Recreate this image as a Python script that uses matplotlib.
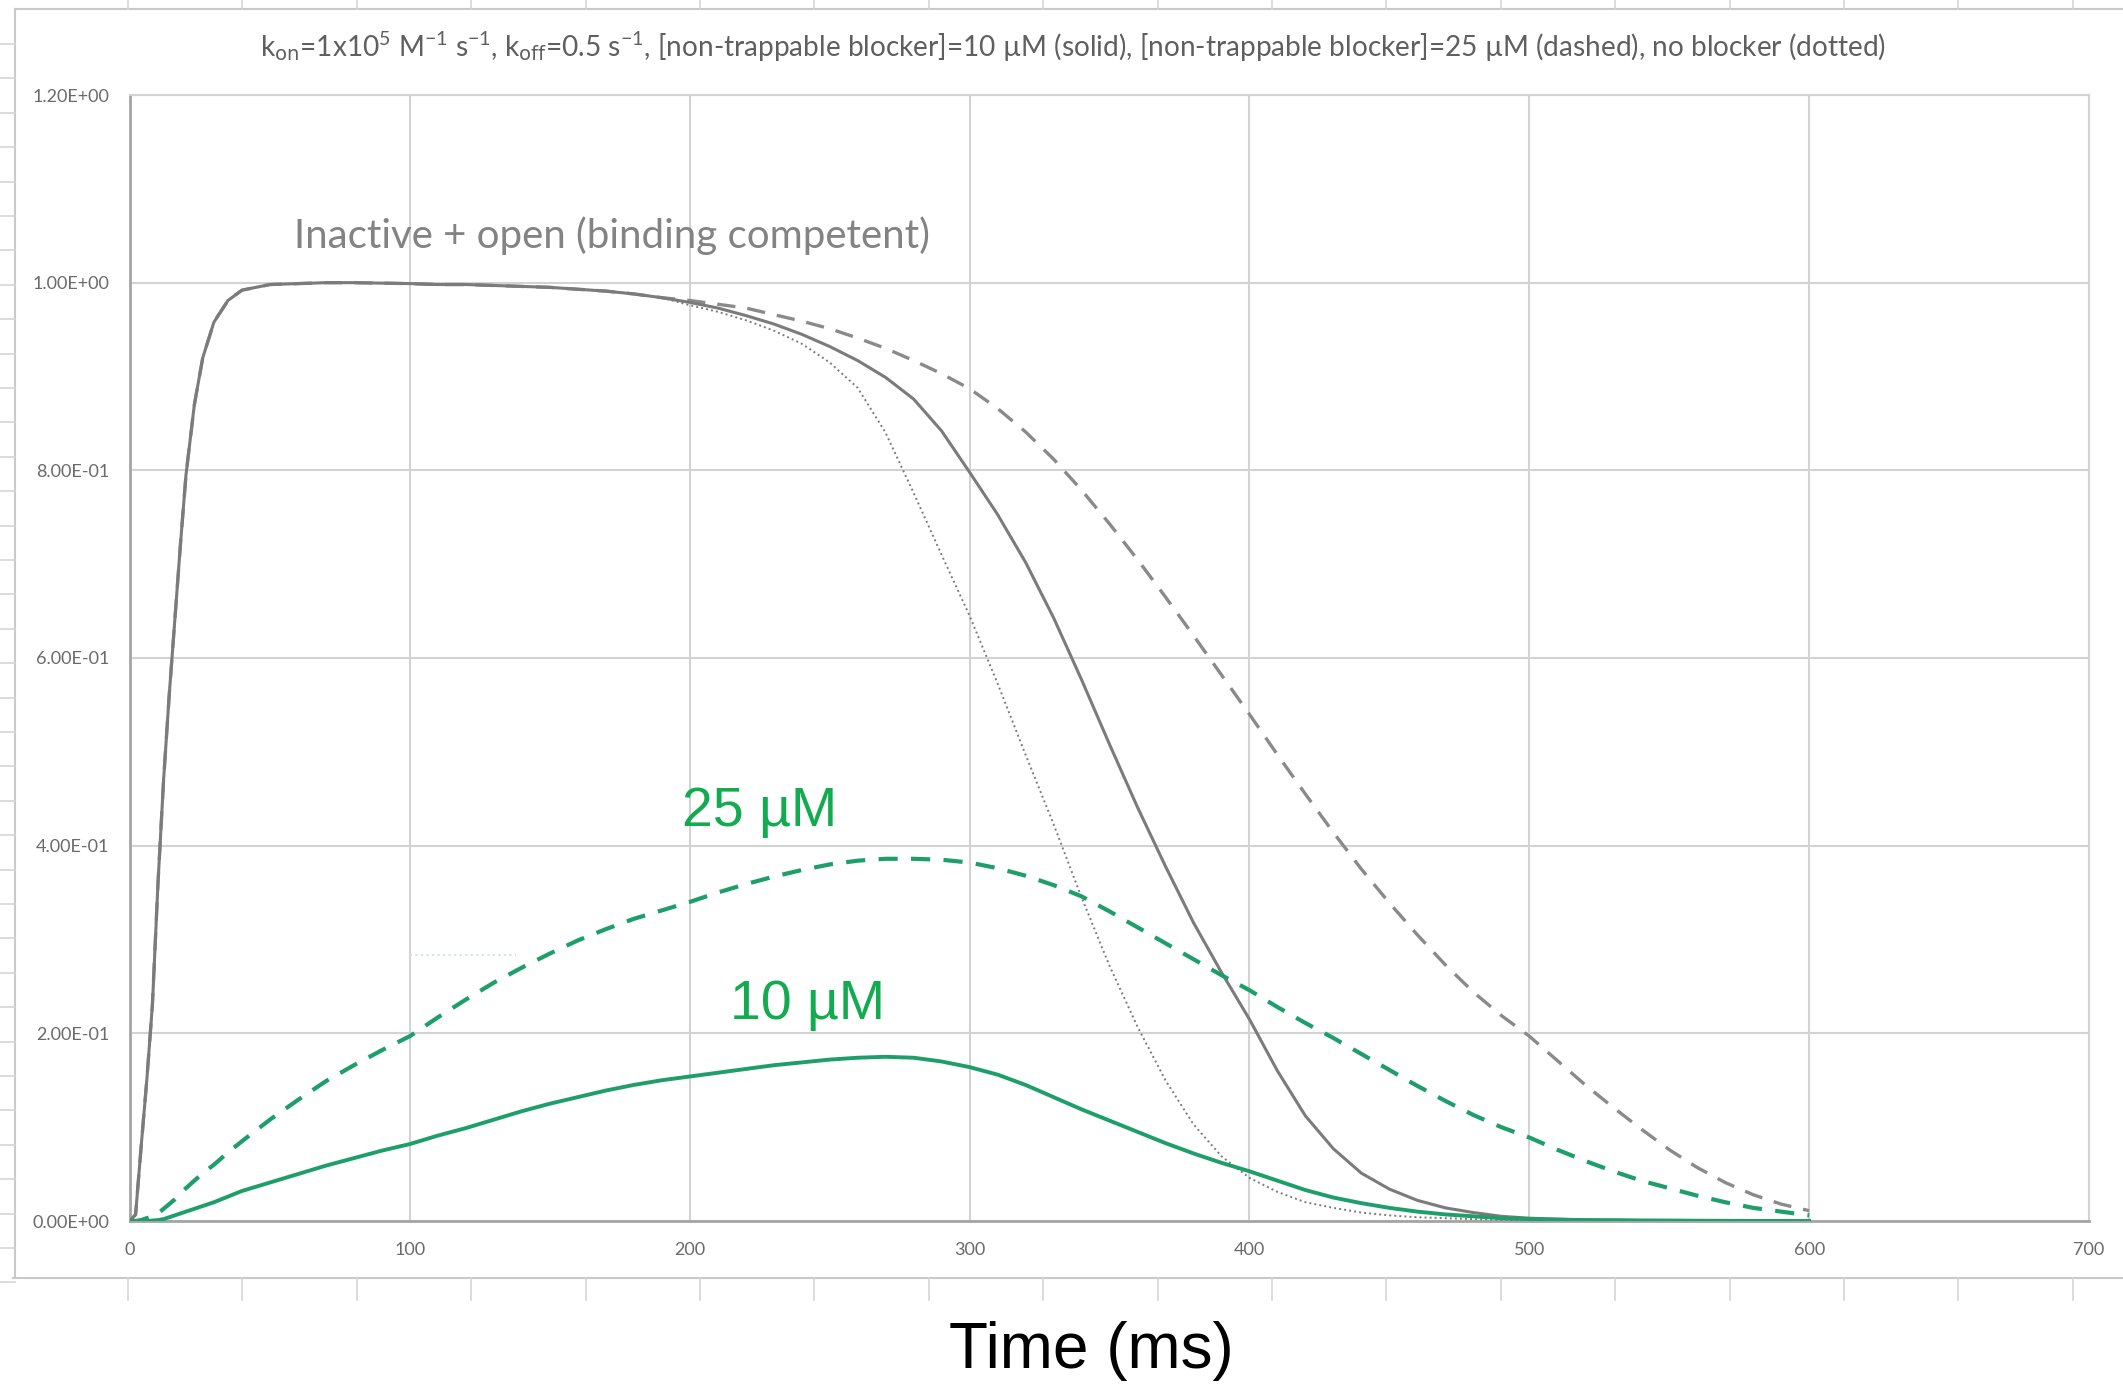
import matplotlib
matplotlib.use('Agg')
import matplotlib.pyplot as plt
from matplotlib.lines import Line2D
from matplotlib.ticker import FuncFormatter

# time points (ms) shared by all five traces
time_ms = [0, 2, 4, 6, 8, 10, 12, 14, 16, 18, 20, 23, 26, 30, 35, 40,
           50, 60, 70, 80, 90, 100, 110, 120, 130, 140, 150, 160, 170, 180, 190,
           200, 210, 220, 230, 240, 250, 260, 270, 280, 290,
           300, 310, 320, 330, 340, 350, 360, 370, 380, 390,
           400, 410, 420, 430, 440, 450, 460, 470, 480, 490,
           500, 510, 520, 530, 540, 550, 560, 570, 580, 590, 600]

# inactive + open (binding competent) fraction
rise = [0, 0.007, 0.08, 0.15, 0.23, 0.36, 0.47, 0.56, 0.64, 0.72, 0.795, 0.87, 0.92, 0.958, 0.981, 0.992,
        0.998, 0.999, 1.0, 1.0, 0.9995, 0.999, 0.998, 0.998, 0.997, 0.996, 0.995, 0.993, 0.991, 0.988, 0.984]
open_10uM = rise + [
    0.979, 0.973, 0.965, 0.956, 0.945, 0.932, 0.917, 0.899, 0.876, 0.842,
    0.798, 0.753, 0.702, 0.643, 0.577, 0.508, 0.441, 0.378, 0.318, 0.265,
    0.215, 0.160, 0.112, 0.077, 0.051, 0.034, 0.022, 0.014, 0.009, 0.005,
    0.003, 0.002, 0.001, 0.001, 0.0005, 0.0005, 0.0003, 0.0002, 0.0001, 0.0001, 0]
open_25uM = rise + [
    0.981, 0.977, 0.973, 0.966, 0.959, 0.951, 0.941, 0.930, 0.917, 0.903,
    0.887, 0.866, 0.841, 0.812, 0.779, 0.743, 0.705, 0.665, 0.624, 0.582,
    0.540, 0.497, 0.455, 0.414, 0.375, 0.339, 0.305, 0.273, 0.244, 0.219,
    0.197, 0.171, 0.145, 0.121, 0.098, 0.076, 0.057, 0.041, 0.028, 0.018, 0.011]
open_none = rise + [
    0.976, 0.969, 0.960, 0.949, 0.935, 0.915, 0.888, 0.840, 0.776, 0.710,
    0.645, 0.573, 0.497, 0.423, 0.345, 0.272, 0.207, 0.150, 0.103, 0.069,
    0.046, 0.031, 0.020, 0.014, 0.009, 0.006, 0.004, 0.003, 0.002, 0.001,
    0.001, 0, 0, 0, 0, 0, 0, 0, 0, 0, 0]

# blocked fraction
blocked_10uM = [0, 0, 0, 0, 0.0005, 0.001, 0.002, 0.004, 0.006, 0.008, 0.010, 0.013, 0.016, 0.020, 0.026, 0.032,
                0.041, 0.050, 0.059, 0.067, 0.075, 0.082, 0.091, 0.099, 0.108, 0.117, 0.125, 0.132, 0.139, 0.145, 0.150,
                0.154, 0.158, 0.162, 0.166, 0.169, 0.172, 0.174, 0.175, 0.174, 0.170,
                0.164, 0.156, 0.145, 0.132, 0.119, 0.107, 0.095, 0.083, 0.072, 0.062,
                0.053, 0.043, 0.033, 0.025, 0.019, 0.014, 0.010, 0.007, 0.005, 0.003,
                0.002, 0.0015, 0.001, 0.0008, 0.0006, 0.0005, 0.0003, 0.0002, 0.0001, 0.0001, 0]
blocked_25uM = [0, 0, 0.001, 0.003, 0.005, 0.008, 0.013, 0.018, 0.023, 0.029, 0.035, 0.043, 0.051, 0.060, 0.073, 0.085,
                0.108, 0.129, 0.149, 0.166, 0.182, 0.197, 0.217, 0.236, 0.254, 0.270, 0.285, 0.299, 0.311, 0.322, 0.331,
                0.340, 0.350, 0.359, 0.367, 0.374, 0.380, 0.384, 0.386, 0.386, 0.385,
                0.382, 0.376, 0.368, 0.358, 0.346, 0.330, 0.313, 0.296, 0.279, 0.262,
                0.246, 0.228, 0.211, 0.195, 0.178, 0.161, 0.144, 0.128, 0.113, 0.100,
                0.089, 0.076, 0.064, 0.053, 0.043, 0.035, 0.027, 0.020, 0.014, 0.010, 0.006]

# faint leftover dotted stub in the original
stub_t = [100, 138]
stub_v = [0.284, 0.284]

yticks = [0, 0.2, 0.4, 0.6, 0.8, 1.0, 1.2]
xticks = [0, 100, 200, 300, 400, 500, 600, 700]

title = (r"k$_{\mathrm{on}}$=1x10$^{5}$ M$^{-1}$ s$^{-1}$, k$_{\mathrm{off}}$=0.5 s$^{-1}$, "
         "[non-trappable blocker]=10 µM (solid), [non-trappable blocker]=25 µM (dashed), no blocker (dotted)")

GRAY = '#7b7b7b'
GREEN = '#1e9e6a'
LABEL_GREEN = '#12ab50'
W, H = 2123, 1387

plt.rcParams['font.family'] = ['Lato', 'DejaVu Sans']
plt.rcParams['mathtext.default'] = 'regular'

fig = plt.figure(figsize=(W / 100, H / 100), dpi=100)
ax = fig.add_axes([130 / W, 1 - 1221 / H, (2089 - 130) / W, (1221 - 95) / H])

ax.plot(time_ms, open_none, color=GRAY, lw=1.4, ls=(0, (1, 1.6)), zorder=3)
ax.plot(time_ms, open_25uM, color='#8a8a8a', lw=2.4, ls=(0, (5.5, 3.6)), zorder=3)
ax.plot(time_ms, open_10uM, color=GRAY, lw=2.2, zorder=4)
ax.plot(time_ms, blocked_10uM, color=GREEN, lw=2.8, zorder=5)
ax.plot(time_ms, blocked_25uM, color=GREEN, lw=3.0, ls=(0, (4.6, 3.2)), zorder=5)
ax.plot(stub_t, stub_v, color='#cfe8df', lw=1.5, ls=':', zorder=2)

ax.set_xlim(0, 700)
ax.set_ylim(0, 1.2)
ax.set_xticks(xticks)
ax.set_yticks(yticks)
ax.yaxis.set_major_formatter(FuncFormatter(lambda v, p: '%.2E' % v))
ax.tick_params(length=0, labelsize=13, labelcolor='#6a6a6a', pad=15)
ax.grid(color='#d3d3d3', lw=1.5)
ax.set_axisbelow(True)
for side in ['top', 'right']:
    ax.spines[side].set_color('#d3d3d3')
    ax.spines[side].set_linewidth(1.5)
for side in ['left', 'bottom']:
    ax.spines[side].set_color('#a5a5a5')
    ax.spines[side].set_linewidth(2)

ax.text(58.6, 1.05, 'Inactive + open (binding competent)', fontsize=29, color='#838383',
        ha='left', va='center')
ax.text(225, 0.436, '25 µM', fontsize=40, color=LABEL_GREEN, ha='center', va='center',
        family='Liberation Sans')
ax.text(242, 0.2305, '10 µM', fontsize=40, color=LABEL_GREEN, ha='center', va='center',
        family='Liberation Sans')

fig.text(1073 / W, 1 - 47 / H, title, fontsize=20.2, color='#5f5f5f', ha='center', va='center')
fig.text(1091 / W, 1 - 1351 / H, 'Time (ms)', fontsize=46, color='black', ha='center', va='center',
         family='Liberation Sans')


# spreadsheet frame around the chart
def px_line(x0, y0, x1, y1, color='#c9c9c9', lw=1.5):
    fig.add_artist(Line2D([x0 / W, x1 / W], [1 - y0 / H, 1 - y1 / H],
                          transform=fig.transFigure, color=color, lw=lw))


px_line(15, 9, W, 9)
px_line(15, 9, 15, 1278)
px_line(13, 1278, W, 1278)
x = 128
while x < W:
    px_line(x, 0, x, 9, color='#d5d5d5', lw=1.2)
    px_line(x, 1278, x, 1300, color='#d5d5d5', lw=1.2)
    x += 114.4
y = 44
while y < 1300:
    px_line(0, y, 15, y, color='#d5d5d5', lw=1.2)
    y += 34.4

fig.savefig('out.png', dpi=100)
